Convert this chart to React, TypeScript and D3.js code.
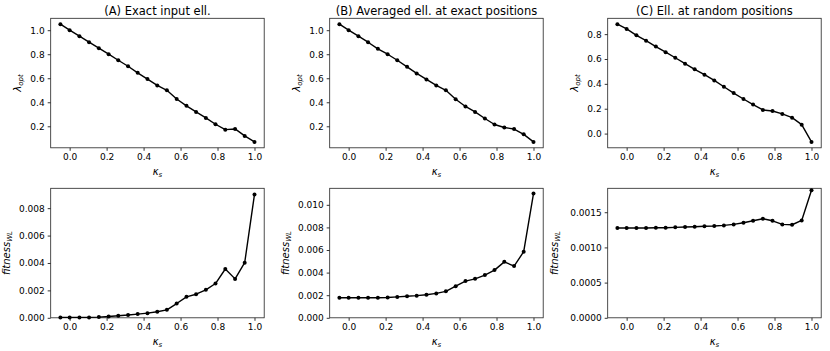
import React, { useEffect, useRef } from 'react';
import * as d3 from 'd3';

// kappa_s values (x axis) shared by all panels
const kappa = [-0.05, 0.0, 0.053, 0.105, 0.158, 0.211, 0.263, 0.316, 0.368, 0.421, 0.474,
  0.526, 0.579, 0.632, 0.684, 0.737, 0.789, 0.842, 0.895, 0.947, 1.0];

// lambda_opt per panel (top row)
const lambdaA = [1.05, 1.0, 0.95, 0.90, 0.85, 0.80, 0.75, 0.70, 0.645, 0.593, 0.54,
  0.50, 0.427, 0.37, 0.32, 0.27, 0.217, 0.172, 0.178, 0.12, 0.07];
const lambdaB = [1.05, 1.0, 0.95, 0.90, 0.845, 0.80, 0.75, 0.695, 0.64, 0.59, 0.54,
  0.50, 0.425, 0.365, 0.32, 0.265, 0.215, 0.19, 0.177, 0.133, 0.07];
const lambdaC = [0.88, 0.842, 0.79, 0.747, 0.70, 0.655, 0.61, 0.562, 0.517, 0.474, 0.428,
  0.377, 0.326, 0.278, 0.233, 0.19, 0.182, 0.158, 0.128, 0.072, -0.067];

// fitness_WL per panel (bottom row)
const fitnessA = [0.00003, 0.00003, 0.00003, 0.00003, 0.00005, 0.0001, 0.00015, 0.0002, 0.00027, 0.00034, 0.00044,
  0.00058, 0.00104, 0.00153, 0.00172, 0.00204, 0.0025, 0.00356, 0.00284, 0.00402, 0.009];
const fitnessB = [0.00177, 0.00177, 0.00177, 0.00177, 0.00178, 0.0018, 0.00185, 0.00191, 0.00196, 0.00204, 0.00216,
  0.00234, 0.0028, 0.00325, 0.00345, 0.00378, 0.00422, 0.00495, 0.00458, 0.00585, 0.011];
const fitnessC = [0.001276, 0.001276, 0.001276, 0.001276, 0.00128, 0.00128, 0.001285, 0.00129, 0.001294, 0.0013, 0.001304,
  0.001313, 0.001327, 0.00135, 0.001378, 0.001407, 0.001378, 0.001327, 0.001322, 0.001383, 0.001813];

const titles = ['(A) Exact input ell.', '(B) Averaged ell. at exact positions', '(C) Ell. at random positions'];

// tick values
const xTicks = [0.0, 0.2, 0.4, 0.6, 0.8, 1.0];
const lambdaTicksAB = [0.2, 0.4, 0.6, 0.8, 1.0];
const lambdaTicksC = [0.0, 0.2, 0.4, 0.6, 0.8];
const fitTicksA = [0.0, 0.002, 0.004, 0.006, 0.008];
const fitTicksB = [0.0, 0.002, 0.004, 0.006, 0.008, 0.010];
const fitTicksC = [0.0, 0.0005, 0.0010, 0.0015];

const W = 830;
const H = 351;
const colLeft = [50.7, 329.7, 607.7];
const panelW = 213.5;
const rowTop = [18.3, 188.3];
const panelH = 129.5;
const ylabelOffset = [[30, 30, 30], [41, 41, 50]];

const App = () => {
  const svgRef = useRef<SVGSVGElement>(null);

  useEffect(() => {
    const svg = d3.select(svgRef.current);
    svg.selectAll('*').remove();

    const panels = [
      { row: 0, col: 0, y: lambdaA, ticks: lambdaTicksAB, fmt: '.1f' },
      { row: 0, col: 1, y: lambdaB, ticks: lambdaTicksAB, fmt: '.1f' },
      { row: 0, col: 2, y: lambdaC, ticks: lambdaTicksC, fmt: '.1f' },
      { row: 1, col: 0, y: fitnessA, ticks: fitTicksA, fmt: '.3f' },
      { row: 1, col: 1, y: fitnessB, ticks: fitTicksB, fmt: '.3f' },
      { row: 1, col: 2, y: fitnessC, ticks: fitTicksC, fmt: '.4f' },
    ];

    const xMin = d3.min(kappa)!;
    const xMax = d3.max(kappa)!;
    const xPad = (xMax - xMin) * 0.05;

    panels.forEach(p => {
      const x0 = colLeft[p.col];
      const y0 = rowTop[p.row];
      const g = svg.append('g').attr('transform', `translate(${x0},${y0})`);

      const x = d3.scaleLinear().domain([xMin - xPad, xMax + xPad]).range([0, panelW]);
      const yMin = d3.min(p.y)!;
      const yMax = d3.max(p.y)!;
      const yPad = (yMax - yMin) * 0.05;
      const lo = p.row === 0 ? yMin - yPad : 0;
      const y = d3.scaleLinear().domain([lo, yMax + yPad]).range([panelH, 0]);

      // axes
      const xa = g.append('g')
        .attr('transform', `translate(0,${panelH})`)
        .call(d3.axisBottom(x).tickValues(xTicks).tickFormat(d3.format('.1f')).tickSizeOuter(0).tickSize(3).tickPadding(3));
      const ya = g.append('g')
        .call(d3.axisLeft(y).tickValues(p.ticks).tickFormat(d3.format(p.fmt)).tickSizeOuter(0).tickSize(3).tickPadding(3));
      [xa, ya].forEach(a => {
        a.select('.domain').remove();
        a.selectAll('line').attr('stroke', '#000').attr('stroke-width', 0.8);
        a.selectAll('text')
          .attr('fill', '#000')
          .style('font-family', 'DejaVu Sans, sans-serif')
          .style('font-size', '9px');
      });

      // frame
      g.append('rect')
        .attr('width', panelW).attr('height', panelH)
        .attr('fill', 'none').attr('stroke', '#222').attr('stroke-width', 0.8);

      // line and markers
      const pts = kappa.map((k, i) => [k, p.y[i]] as [number, number]);
      const line = d3.line<[number, number]>().x(d => x(d[0])).y(d => y(d[1]));
      g.append('path')
        .datum(pts)
        .attr('fill', 'none')
        .attr('stroke', '#000')
        .attr('stroke-width', 1.4)
        .attr('stroke-linejoin', 'round')
        .attr('d', line);
      g.selectAll('.dot')
        .data(pts)
        .enter()
        .append('circle')
        .attr('cx', d => x(d[0]))
        .attr('cy', d => y(d[1]))
        .attr('r', 2)
        .attr('fill', '#000');

      // x label: kappa_s
      const xl = g.append('text')
        .attr('x', panelW / 2)
        .attr('y', panelH + 27)
        .attr('text-anchor', 'middle')
        .style('font-family', 'DejaVu Sans, sans-serif')
        .style('font-size', '10px')
        .style('font-style', 'italic');
      xl.append('tspan').text('κ');
      xl.append('tspan').attr('dy', 2.5).style('font-size', '7px').text('s');

      // y label
      const yl = g.append('text')
        .attr('transform', `translate(${-ylabelOffset[p.row][p.col]},${panelH / 2}) rotate(-90)`)
        .attr('text-anchor', 'middle')
        .style('font-family', 'DejaVu Sans, sans-serif')
        .style('font-size', '10px')
        .style('font-style', 'italic');
      if (p.row === 0) {
        yl.append('tspan').text('λ');
        yl.append('tspan').attr('dy', 2.5).style('font-size', '7px').text('opt');
      } else {
        yl.append('tspan').text('fitness');
        yl.append('tspan').attr('dy', 2.5).style('font-size', '7px').text('WL');
      }

      if (p.row === 0) {
        g.append('text')
          .attr('x', panelW / 2)
          .attr('y', -3)
          .attr('text-anchor', 'middle')
          .style('font-family', 'DejaVu Sans, sans-serif')
          .style('font-size', '11.5px')
          .text(titles[p.col]);
      }
    });
  }, []);

  return (
    <svg ref={svgRef} width={W} height={H}
      style={{ position: 'absolute', left: 0, top: 0, background: '#fff' }} />
  );
};

export default App;
